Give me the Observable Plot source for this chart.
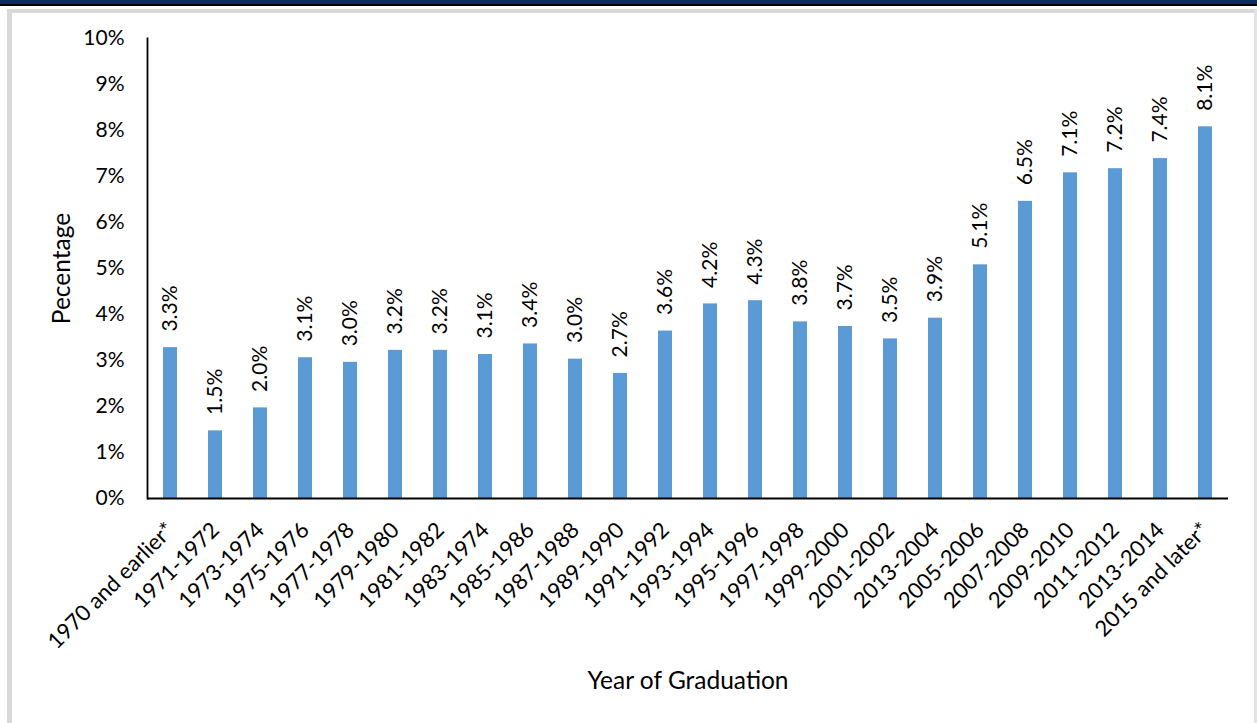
<!DOCTYPE html>
<html>
<head>
<meta charset="utf-8">
<script src="https://cdn.jsdelivr.net/npm/d3@7"></script>
<script src="https://cdn.jsdelivr.net/npm/@observablehq/plot@0.6"></script>
<style>
  html, body { margin: 0; padding: 0; background: #fff; }
  #wrap { position: relative; width: 1257px; height: 723px; overflow: hidden; }
  .deco { position: absolute; z-index: 2; }
  #chart { position: absolute; left: 0; top: 0; }
</style>
</head>
<body>
<div id="wrap">
  <div class="deco" style="left:0;top:0;width:1257px;height:4px;background:#0a2f5c"></div>
  <div class="deco" style="left:0;top:4px;width:1257px;height:2px;background:#000"></div>
  <div class="deco" style="left:8px;top:9px;width:1246px;height:4px;background:#d9d9d9"></div>
  <div class="deco" style="left:7px;top:9px;width:5px;height:714px;background:#d9d9d9"></div>
  <div class="deco" style="left:1254px;top:9px;width:3px;height:714px;background:#e3e3e3"></div>
  <div id="chart"></div>
</div>
<script>
const categories = [
  "1970 and earlier*", "1971-1972", "1973-1974", "1975-1976", "1977-1978",
  "1979-1980", "1981-1982", "1983-1974", "1985-1986", "1987-1988",
  "1989-1990", "1991-1992", "1993-1994", "1995-1996", "1997-1998",
  "1999-2000", "2001-2002", "2013-2004", "2005-2006", "2007-2008",
  "2009-2010", "2011-2012", "2013-2014", "2015 and later*"
];
const percentages = [
  3.28, 1.47, 1.97, 3.06, 2.96, 3.22, 3.22, 3.13, 3.36, 3.03,
  2.72, 3.64, 4.23, 4.30, 3.84, 3.74, 3.47, 3.92, 5.08, 6.46,
  7.08, 7.17, 7.39, 8.08
];
const yTicks = [0, 1, 2, 3, 4, 5, 6, 7, 8, 9, 10];
const xTitle = "Year of Graduation";
const yTitle = "Pecentage";

const data = categories.map((c, i) => ({cat: c, v: percentages[i]}));
const font = "Lato, 'Open Sans', sans-serif";

const chart = Plot.plot({
  width: 1257,
  height: 723,
  marginLeft: 147,
  marginRight: 29,
  marginTop: 38,
  marginBottom: 225,
  style: {fontFamily: font, fontSize: "21px", color: "#000", background: "transparent"},
  x: {domain: categories, paddingInner: 0.69, paddingOuter: 0.345, label: null},
  y: {domain: [0, 10], label: null},
  marks: [
    Plot.barY(data, {x: "cat", y: "v", fill: "#5b9bd5"}),
    Plot.axisY({ticks: yTicks, tickFormat: d => d + "%", tickSize: 0, tickPadding: 23, fontSize: 21, label: null}),
    Plot.axisX({tickSize: 0, tickRotate: -45, tickPadding: 22, dy: 6, fontSize: 22, label: null}),
    Plot.ruleY([0], {stroke: "#000", strokeWidth: 1.8}),
    Plot.frame({anchor: "left", stroke: "#000", strokeWidth: 1.8}),
    Plot.text(data, {x: "cat", y: "v", text: d => d.v.toFixed(1) + "%", rotate: -90,
      textAnchor: "start", lineAnchor: "middle", dy: -16, fontSize: 21, fill: "#000"}),
    Plot.text([xTitle], {frameAnchor: "bottom", textAnchor: "middle", dy: 183, lineAnchor: "middle", fontSize: 24.5, fill: "#000"}),
    Plot.text([yTitle], {frameAnchor: "left", textAnchor: "middle", dx: -85, rotate: -90, lineAnchor: "middle", fontSize: 24.5, fill: "#000"})
  ]
});
document.getElementById("chart").appendChild(chart);
</script>
</body>
</html>
